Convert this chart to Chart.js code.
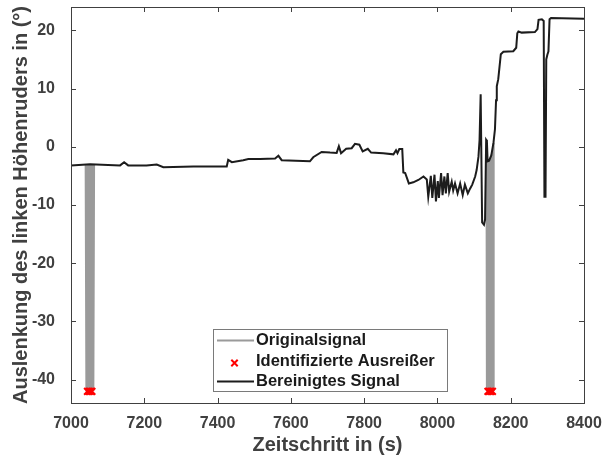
<!DOCTYPE html>
<html>
<head>
<meta charset="utf-8">
<script src="https://cdn.jsdelivr.net/npm/chart.js@4"></script>
<style>
  html, body { margin: 0; padding: 0; background: #fff; }
  #wrap { width: 615px; height: 457px; }
</style>
</head>
<body>
<div id="wrap"><canvas id="chart" width="615" height="457"></canvas></div>
<script>
// cleaned signal (black)
const cleanTime = [7000, 7052, 7134, 7145, 7156, 7206, 7234, 7252, 7334, 7425, 7429, 7439, 7470, 7484, 7516,
  7557, 7566, 7575, 7652, 7661, 7684, 7707, 7725, 7731, 7737, 7751, 7766, 7775, 7787, 7796, 7810, 7819,
  7852, 7880, 7887, 7891, 7896, 7904, 7907, 7912, 7922, 7934, 7948, 7962, 7971, 7975, 7982, 7986, 7992,
  7996, 8001, 8004, 8010, 8014, 8019, 8023, 8028, 8032, 8039, 8043, 8048, 8055, 8062, 8069, 8075, 8083,
  8089, 8095, 8103, 8107, 8112, 8115, 8118, 8122, 8127, 8130, 8133, 8135, 8137, 8141, 8147, 8153, 8157,
  8160, 8162, 8166, 8173, 8180, 8207, 8215, 8218, 8221, 8230, 8266, 8273, 8276, 8285, 8290, 8292, 8295,
  8297, 8300, 8303, 8306, 8310, 8400]
const cleanValue = [-3.2, -3.0, -3.2, -2.65, -3.2, -3.2, -3.05, -3.5, -3.4, -3.4, -2.25, -2.65, -2.3, -2.1, -2.1,
  -2.0, -1.55, -2.3, -2.5, -1.8, -0.9, -1.0, -1.05, 0.1, -1.1, -0.35, -0.25, 0.5, 0.35, -0.8, -0.35, -1.0,
  -1.1, -1.3, -0.6, -1.1, -0.4, -0.4, -4.4, -4.5, -6.3, -6.1, -5.7, -5.1, -5.6, -8.6, -5.0, -8.8, -4.8,
  -9.4, -5.9, -8.8, -4.5, -8.3, -5.1, -8.0, -4.5, -7.7, -6.0, -7.5, -6.3, -8.0, -6.3, -8.3, -6.5, -8.0,
  -7.2, -6.5, -5.1, -4.0, -1.7, 1.2, 9.0, -13.0, -13.4, -12.5, 1.2, 1.0, -2.5, -2.4, -1.5, 0.7, 3.0,
  8.0, 10.4, 11.6, 15.9, 16.3, 16.4, 17.0, 19.5, 19.8, 19.6, 19.7, 20.2, 21.8, 21.9, 21.6, -8.6, -8.6,
  15.0, 15.8, 16.4, 21.9, 22.1, 22.0]

// original signal around the outliers (grey), null splits the two pieces
const origTime = [7040, 7042, 7043, 7044, 7045, 7046, 7047, 7048, 7049, 7050, 7052, 7053, 7054, 7055, 7056,
  7057, 7058, 7059, 7060, 7061, 7063, 7100,
  8134, 8135, 8136, 8137, 8138, 8139, 8140, 8141, 8142, 8143, 8144, 8145, 8146, 8147, 8148, 8149, 8150,
  8151, 8152, 8153, 8154]
const origValue = [-3.1, -42, -3.1, -42, -3.1, -42, -3.1, -42, -3.1, -42, -3.0, -42, -3.0, -42, -3.0,
  -42, -3.0, -42, -3.0, -42, -3.0, null,
  -2.4, -42, -2.5, -42, -2.5, -42, -2.4, -42, -2.3, -42, -2.1, -42, -1.7, -42, -1.3, -42, -0.7,
  -42, 0.0, -42, 0.7]

// identified outliers (red crosses)
const outlierTime = [7045, 7049, 7053, 7057, 8138, 8142, 8146, 8150]
const outlierValue = [-42, -42, -42, -42, -42, -42, -42, -42]

const xTicks = [7000, 7200, 7400, 7600, 7800, 8000, 8200, 8400]
const yTicks = [-40, -30, -20, -10, 0, 10, 20]

const legendLabels = ['Originalsignal', 'Identifizierte Ausreißer', 'Bereinigtes Signal']

const axisColor = '#404040'
const grey = '#9a9a9a'
const black = '#1c1c1c'

const toPoints = (xs, ys) => xs.map((x, i) => ({ x, y: ys[i] }))

// MATLAB style box with inward ticks on all four sides
const boxPlugin = {
  id: 'box',
  afterDraw(chart) {
    const { ctx, chartArea: a, scales } = chart
    ctx.save()
    ctx.strokeStyle = axisColor
    ctx.lineWidth = 1
    ctx.strokeRect(a.left + 0.5, a.top + 0.5, a.right - a.left, a.bottom - a.top)
    ctx.beginPath()
    xTicks.forEach(v => {
      const px = Math.round(scales.x.getPixelForValue(v)) + 0.5
      ctx.moveTo(px, a.bottom); ctx.lineTo(px, a.bottom - 5)
      ctx.moveTo(px, a.top); ctx.lineTo(px, a.top + 5)
    })
    yTicks.forEach(v => {
      const py = Math.round(scales.y.getPixelForValue(v)) + 0.5
      ctx.moveTo(a.left, py); ctx.lineTo(a.left + 5, py)
      ctx.moveTo(a.right, py); ctx.lineTo(a.right - 5, py)
    })
    ctx.stroke()

    // legend box
    const lx = 213.5, ly = 329.5, lw = 234, lh = 62
    ctx.fillStyle = '#fff'
    ctx.fillRect(lx, ly, lw, lh)
    ctx.strokeStyle = '#7a7a7a'
    ctx.strokeRect(lx, ly, lw, lh)
    const rows = [340.5, 361.5, 381.5]
    ctx.lineWidth = 2
    ctx.strokeStyle = grey
    ctx.beginPath(); ctx.moveTo(217, rows[0]); ctx.lineTo(254, rows[0]); ctx.stroke()
    ctx.strokeStyle = black
    ctx.beginPath(); ctx.moveTo(217, rows[2]); ctx.lineTo(254, rows[2]); ctx.stroke()
    ctx.strokeStyle = '#ff0000'
    const cx = 234.5, cy = rows[1] + 1.5, s = 3.2
    ctx.beginPath()
    ctx.moveTo(cx - s, cy - s); ctx.lineTo(cx + s, cy + s)
    ctx.moveTo(cx - s, cy + s); ctx.lineTo(cx + s, cy - s)
    ctx.stroke()
    ctx.fillStyle = '#1a1a1a'
    ctx.font = "bold 16.5px 'Liberation Sans', Arial, sans-serif"
    ctx.textBaseline = 'middle'
    ctx.textAlign = 'left'
    legendLabels.forEach((t, i) => ctx.fillText(t, 256, rows[i]))
    ctx.restore()
  }
}

const tickFont = { family: "'Liberation Sans', Arial, sans-serif", size: 16, weight: 'bold' }
const titleFont = { family: "'Liberation Sans', Arial, sans-serif", size: 20, weight: 'bold' }

new Chart(document.getElementById('chart'), {
  type: 'line',
  data: {
    datasets: [
      {
        label: legendLabels[2],
        data: toPoints(cleanTime, cleanValue),
        borderColor: black,
        borderWidth: 2,
        pointRadius: 0,
        order: 0
      },
      {
        label: legendLabels[1],
        data: toPoints(outlierTime, outlierValue),
        showLine: false,
        pointStyle: 'crossRot',
        pointRadius: 4.8,
        pointBorderWidth: 2,
        borderColor: '#ff0000',
        backgroundColor: '#ff0000',
        order: 1
      },
      {
        label: legendLabels[0],
        data: toPoints(origTime, origValue),
        borderColor: grey,
        borderWidth: 2,
        borderJoinStyle: 'bevel',
        pointRadius: 0,
        spanGaps: false,
        order: 2
      }
    ]
  },
  options: {
    responsive: false,
    animation: false,
    devicePixelRatio: 1,
    layout: { padding: { top: 7, right: 31, left: 0, bottom: 0 } },
    plugins: { legend: { display: false }, tooltip: { enabled: false } },
    scales: {
      x: {
        type: 'linear',
        min: 7000,
        max: 8400,
        afterBuildTicks: scale => { scale.ticks = xTicks.map(v => ({ value: v })) },
        afterFit: scale => { scale.height = 54; scale.paddingLeft = 0; scale.paddingRight = 0 },
        grid: { display: false },
        border: { display: false },
        ticks: { font: tickFont, color: axisColor, padding: 3, maxRotation: 0, autoSkip: false, callback: v => String(v) },
        title: { display: true, text: 'Zeitschritt in (s)', font: titleFont, color: axisColor, padding: { top: 0, bottom: 0 } }
      },
      y: {
        min: -44,
        max: 24,
        afterBuildTicks: scale => { scale.ticks = yTicks.map(v => ({ value: v })) },
        afterFit: scale => { scale.width = 71; scale.paddingTop = 0; scale.paddingBottom = 0 },
        grid: { display: false },
        border: { display: false },
        ticks: { font: tickFont, color: axisColor, padding: 8, callback: v => String(v) },
        title: { display: true, text: 'Auslenkung des linken Höhenruders in (°)', font: titleFont, color: axisColor, padding: { top: 9, bottom: 0 } }
      }
    }
  },
  plugins: [boxPlugin]
})
</script>
</body>
</html>
